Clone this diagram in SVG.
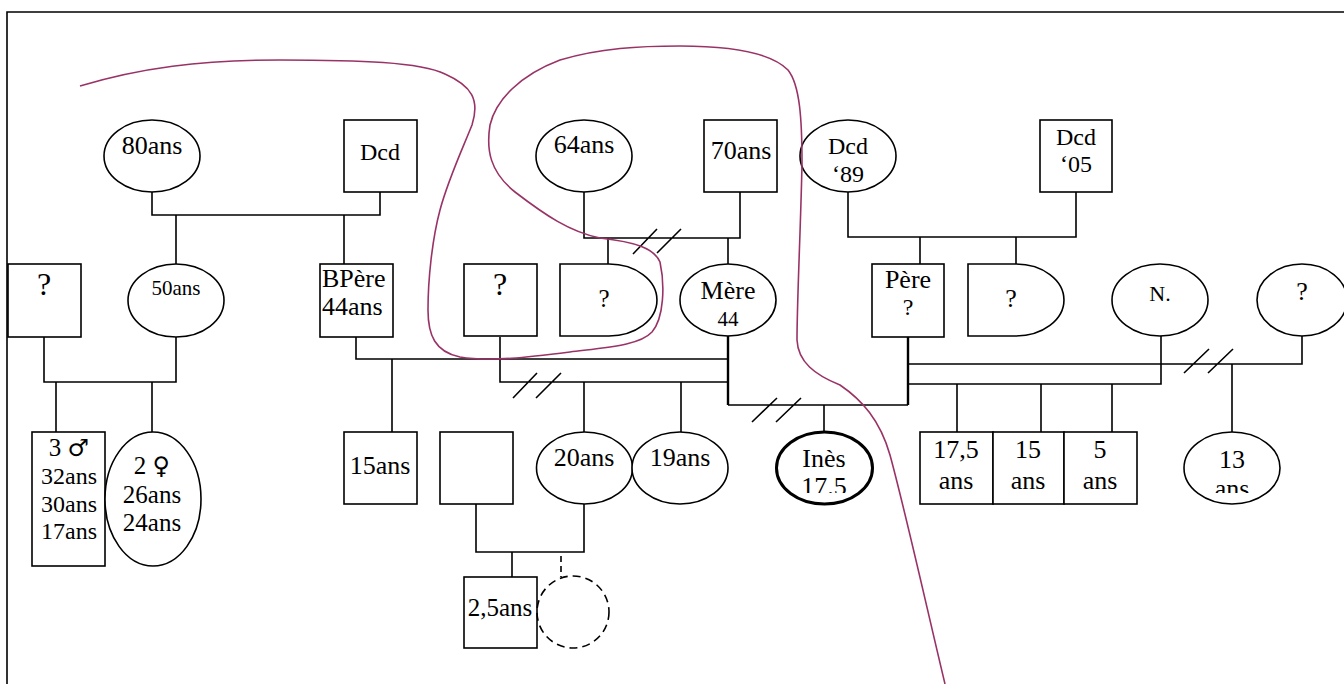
<svg xmlns="http://www.w3.org/2000/svg" width="1344" height="684" viewBox="0 0 1344 684">
<style>
.s{fill:#fff;stroke:#000;stroke-width:1.6}
.t{font-family:"Liberation Serif","DejaVu Serif",serif;font-size:26px;fill:#000;text-anchor:middle}
.sm{font-size:21px}
.q{font-size:31px}
.c{fill:none;stroke:#000;stroke-width:1.6}
.th{stroke-width:2.4}
.p{fill:none;stroke:#993366;stroke-width:1.6}
.sym{font-family:"DejaVu Sans",sans-serif;font-size:24px}
</style>
<defs>
<clipPath id="clipI"><rect x="770" y="430" width="110" height="63"/></clipPath>
<clipPath id="clip13"><rect x="1180" y="430" width="110" height="63"/></clipPath>
</defs>
<rect width="1344" height="684" fill="#fff"/>
<path class="c" d="M7,684 V12 H1344"/>
<g id="connectors">
<path class="c" d="M152,192 V215 H380 V192 M176,215 V264 M344,215 V264"/>
<path class="c" d="M44,337 V382 H176 V337 M56,382 V432 M152,382 V432"/>
<path class="c" d="M356,337 V359 H728 M392,359 V432"/>
<path class="c" d="M584,192 V238 H740 V192 M608,238 V264 M728,238 V264 M633,254 L657,229 M657,253 L681,229"/>
<path class="c" d="M500,337 V382 H728 M584,382 V432 M681,382 V432 M513,398 L537,373 M536,398 L561,373"/>
<path class="c th" d="M728,336 V405 M908,337 V405"/>
<path class="c" d="M728,405 H908 M824,405 V432 M752,422 L777,398 M776,422 L801,398"/>
<path class="c" d="M848,192 V237 H1076 V192 M920,237 V264 M1016,237 V264"/>
<path class="c" d="M908,364 H1302 V336 M1232,364 V432 M1184,373 L1209,349 M1208,373 L1233,349"/>
<path class="c" d="M908,384 H1161 V336 M957,384 V432 M1041,384 V432 M1112,384 V432"/>
<path class="c" d="M476,504 V552 H584 V504 M512,552 V577"/>
<path class="c" stroke-dasharray="6 4" d="M561,556 V577"/>
</g>
<g id="n80"><ellipse class="s" cx="152" cy="156" rx="48" ry="36"/><text class="t" x="152" y="154">80ans</text></g>
<g id="dcd1"><rect class="s" x="344" y="120" width="73" height="72"/><text class="t" x="380" y="160" style="font-size:24px">Dcd</text></g>
<g id="n64"><ellipse class="s" cx="584" cy="156" rx="48" ry="36"/><text class="t" x="584" y="153">64ans</text></g>
<g id="n70"><rect class="s" x="704" y="120" width="73" height="72"/><text class="t" x="741" y="159">70ans</text></g>
<g id="dcd89"><ellipse class="s" cx="848" cy="156" rx="48" ry="36"/><text class="t" x="848" y="154" style="font-size:24px">Dcd</text><text class="t" x="848" y="182" style="font-size:24px">‘89</text></g>
<g id="dcd05"><rect class="s" x="1040" y="120" width="72" height="72"/><text class="t" x="1076" y="145" style="font-size:24px">Dcd</text><text class="t" x="1076" y="172" style="font-size:24px">‘05</text></g>
<g id="q1"><rect class="s" x="8" y="264" width="73" height="73"/><text class="t" x="44" y="295" style="font-size:32px">?</text></g>
<g id="n50"><ellipse class="s" cx="176" cy="300.5" rx="48" ry="36.5"/><text class="t sm" x="176" y="295">50ans</text></g>
<g id="bpere"><rect class="s" x="320" y="264" width="73" height="73"/><text class="t" x="322" y="287" style="text-anchor:start">BPère</text><text class="t" x="322" y="315" style="text-anchor:start">44ans</text></g>
<g id="q2"><rect class="s" x="464" y="264" width="73" height="72"/><text class="t" x="500" y="295" style="font-size:32px">?</text></g>
<g id="d1"><path class="s" d="M560,264 H609 A48,36 0 0 1 609,336 H560 Z"/><text class="t" x="604" y="307" style="font-size:25px">?</text></g>
<g id="mere"><ellipse class="s" cx="728" cy="300" rx="48" ry="36"/><text class="t" x="728" y="299">Mère</text><text class="t sm" x="728" y="326">44</text></g>
<g id="pere"><rect class="s" x="872" y="264" width="72" height="73"/><text class="t" x="908" y="288">Père</text><text class="t" x="908" y="315" style="font-size:24px">?</text></g>
<g id="d2"><path class="s" d="M968,264 H1016 A48,36 0 0 1 1016,336 H968 Z"/><text class="t" x="1011" y="307" style="font-size:26px">?</text></g>
<g id="nN"><ellipse class="s" cx="1160" cy="300" rx="48" ry="36"/><text class="t" x="1160" y="301" style="font-size:22px">N.</text></g>
<g id="q3"><ellipse class="s" cx="1302" cy="300" rx="45" ry="36"/><text class="t" x="1302" y="300" style="font-size:26px">?</text></g>
<g id="m3"><rect class="s" x="32" y="432" width="73" height="134"/><text class="t" x="69" y="456" style="font-size:25px">3 <tspan class="sym">♂</tspan></text><text class="t" x="69" y="484" style="font-size:24px">32ans</text><text class="t" x="69" y="512" style="font-size:24px">30ans</text><text class="t" x="69" y="539" style="font-size:24px">17ans</text></g>
<g id="f2"><ellipse class="s" cx="153" cy="499" rx="48" ry="67"/><text class="t" x="152" y="474" style="font-size:25px">2 <tspan class="sym">♀</tspan></text><text class="t" x="152" y="503" style="font-size:25px">26ans</text><text class="t" x="152" y="531" style="font-size:25px">24ans</text></g>
<g id="n15"><rect class="s" x="344" y="432" width="73" height="72"/><text class="t" x="380" y="474">15ans</text></g>
<g id="blank"><rect class="s" x="440" y="432" width="73" height="72"/></g>
<g id="n20"><ellipse class="s" cx="584.5" cy="468" rx="48" ry="36"/><text class="t" x="584" y="466">20ans</text></g>
<g id="n19"><ellipse class="s" cx="680" cy="468" rx="48" ry="36"/><text class="t" x="680" y="466">19ans</text></g>
<g id="ines"><ellipse class="s" cx="824.5" cy="468" rx="48" ry="36" style="stroke-width:3"/><g clip-path="url(#clipI)"><text class="t" x="824" y="467">Inès</text><text class="t" x="824" y="495">17.5</text></g></g>
<g id="n175"><rect class="s" x="920" y="432" width="73" height="72"/><text class="t" x="956" y="458">17,5</text><text class="t" x="956" y="489">ans</text></g>
<g id="n15b"><rect class="s" x="993" y="432" width="71" height="72"/><text class="t" x="1028" y="458">15</text><text class="t" x="1028" y="489">ans</text></g>
<g id="n5"><rect class="s" x="1064" y="432" width="73" height="72"/><text class="t" x="1100" y="458">5</text><text class="t" x="1100" y="489">ans</text></g>
<g id="n13"><ellipse class="s" cx="1232" cy="468" rx="48" ry="36"/><g clip-path="url(#clip13)"><text class="t" x="1232" y="468">13</text><text class="t" x="1232" y="497">ans</text></g></g>
<g id="n25"><rect class="s" x="464" y="577" width="73" height="71"/><text class="t" x="500" y="616" style="font-size:25px">2,5ans</text></g>
<g id="dashed"><circle cx="573" cy="612" r="36" fill="none" stroke="#000" stroke-width="1.6" stroke-dasharray="8 5"/></g>
<path class="p" d="M80,86 C140,68 200,60 280,60 C360,60 420,62 445,74 C472,86 480,100 472,125 C462,150 448,180 440,210 C432,240 428,280 428,310 C428,335 435,352 460,357 C490,362 530,357 570,352 C610,347 640,345 652,332 C664,318 665,285 660,262 C654,248 635,242 600,238 C570,232 545,215 515,192 C490,172 486,150 490,125 C496,100 520,75 560,60 C600,48 640,46 680,46 C730,46 770,52 788,70 C800,85 802,120 802,163 C801,220 797,300 797,340 C798,362 815,375 840,385 C862,400 880,420 890,455 C905,510 925,600 945,684"/>
</svg>
